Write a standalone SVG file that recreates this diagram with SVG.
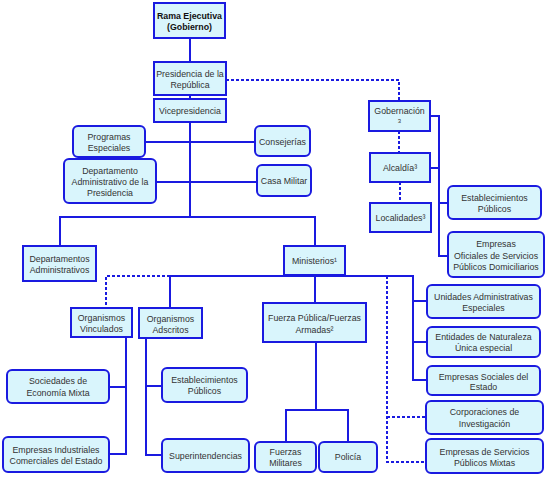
<svg xmlns="http://www.w3.org/2000/svg" width="548" height="478" viewBox="0 0 548 478">
<style>
.b{fill:#d9f5fc;stroke:#1a1ae0;stroke-width:2}
.t{font-family:"Liberation Sans",Arial,sans-serif;font-size:8.8px;fill:#333;text-anchor:middle}
.bold{font-weight:bold;fill:#111}
.c{fill:none;stroke:#1a1ae0;stroke-width:2}
.d{fill:none;stroke:#1a1ae0;stroke-width:2;stroke-dasharray:3,2}
</style>
<rect width="548" height="478" fill="#fff"/>
<g id="connectors">
<path class="c" d="M190,38V62M190,95V99M190,122V217M145,142H255M156,182H257M60,246V217H315V246M170,308V276H413V380H427M413,301H427M413,342H427M315,276V303M126,337V454H109M109,387H126M146,338V455H162M146,386H162M316,342V410M286,442V410H348V442M430,116H439V256H448M430,168H439M439,203H448"/>
<path class="d" d="M226,80H399V101M399,131V153M400,182V203M170,276H106V308M387,276V462H426M387,417H426"/>
</g>
<g id="rama"><rect class="b" x="154" y="3" width="71" height="35"/><text class="t bold" x="189.5" y="18.5">Rama Ejecutiva</text><text class="t bold" x="189.5" y="29.5">(Gobierno)</text></g>
<g id="presidencia"><rect class="b" x="154" y="62" width="72" height="33"/><text class="t" x="190" y="77">Presidencia de la</text><text class="t" x="190" y="88">República</text></g>
<g id="vicepresidencia"><rect class="b" x="154" y="99" width="72" height="23"/><text class="t" x="190" y="114">Vicepresidencia</text></g>
<g id="programas"><rect class="b" x="73" y="126" width="72" height="31" rx="5"/><text class="t" x="109" y="140">Programas</text><text class="t" x="109" y="150.5">Especiales</text></g>
<g id="consejerias"><rect class="b" x="255" y="126" width="55" height="30" rx="5"/><text class="t" x="282.5" y="144.5">Consejerías</text></g>
<g id="dapre"><rect class="b" x="64" y="159" width="92" height="44" rx="5"/><text class="t" x="110" y="174">Departamento</text><text class="t" x="110" y="185">Administrativo de la</text><text class="t" x="110" y="196">Presidencia</text></g>
<g id="casamilitar"><rect class="b" x="257" y="165" width="54" height="31" rx="5"/><text class="t" x="284" y="183.5">Casa Militar</text></g>
<g id="deptadmin"><rect class="b" x="23" y="246" width="73" height="35"/><text class="t" x="59.5" y="261.5">Departamentos</text><text class="t" x="59.5" y="272.5">Administrativos</text></g>
<g id="ministerios"><rect class="b" x="284" y="246" width="61" height="29"/><text class="t" x="314.5" y="264">Ministerios¹</text></g>
<g id="gobernacion"><rect class="b" x="369" y="101" width="61" height="30"/><text class="t" x="399.5" y="114">Gobernación</text><text class="t" x="399.5" y="123" style="font-size:6px">3</text></g>
<g id="alcaldia"><rect class="b" x="370" y="153" width="60" height="29"/><text class="t" x="400" y="170.5">Alcaldía³</text></g>
<g id="localidades"><rect class="b" x="370" y="203" width="61" height="29"/><text class="t" x="400.5" y="221">Localidades³</text></g>
<g id="estpub1"><rect class="b" x="448" y="186" width="93" height="33" rx="5"/><text class="t" x="494.5" y="200.5">Establecimientos</text><text class="t" x="494.5" y="211.5">Públicos</text></g>
<g id="empoficiales"><rect class="b" x="448" y="232" width="96" height="45" rx="5"/><text class="t" x="496" y="247">Empresas</text><text class="t" x="496" y="258.5">Oficiales de Servicios</text><text class="t" x="496" y="269.5">Públicos Domiciliarios</text></g>
<g id="orgvinculados"><rect class="b" x="71" y="308" width="61" height="29"/><text class="t" x="101.5" y="320.5">Organismos</text><text class="t" x="101.5" y="331.5">Vinculados</text></g>
<g id="orgadscritos"><rect class="b" x="139" y="308" width="63" height="30"/><text class="t" x="170.5" y="322">Organismos</text><text class="t" x="170.5" y="333">Adscritos</text></g>
<g id="fuerzapublica"><rect class="b" x="263" y="303" width="103" height="39"/><text class="t" x="314.5" y="321">Fuerza Pública/Fuerzas</text><text class="t" x="314.5" y="333">Armadas²</text></g>
<g id="sociedades"><rect class="b" x="7" y="370" width="102" height="33" rx="5"/><text class="t" x="58" y="384">Sociedades de</text><text class="t" x="58" y="395.5">Economía Mixta</text></g>
<g id="empindustriales"><rect class="b" x="3" y="437" width="106" height="35" rx="5"/><text class="t" x="56" y="452.5">Empresas Industriales</text><text class="t" x="56" y="463.5">Comerciales del Estado</text></g>
<g id="estpub2"><rect class="b" x="162" y="368" width="85" height="34" rx="5"/><text class="t" x="204.5" y="383">Establecimientos</text><text class="t" x="204.5" y="394">Públicos</text></g>
<g id="superintendencias"><rect class="b" x="162" y="439" width="87" height="33" rx="5"/><text class="t" x="205.5" y="458.5">Superintendencias</text></g>
<g id="fuerzasmilitares"><rect class="b" x="255" y="442" width="61" height="30" rx="5"/><text class="t" x="285.5" y="454.5">Fuerzas</text><text class="t" x="285.5" y="465.5">Militares</text></g>
<g id="policia"><rect class="b" x="319" y="442" width="58" height="30" rx="5"/><text class="t" x="348" y="460">Policía</text></g>
<g id="unidades"><rect class="b" x="427" y="285" width="113" height="33" rx="5"/><text class="t" x="483.5" y="299.5">Unidades Administrativas</text><text class="t" x="483.5" y="310.5">Especiales</text></g>
<g id="entidades"><rect class="b" x="427" y="327" width="113" height="30" rx="5"/><text class="t" x="483.5" y="339.5">Entidades de Naturaleza</text><text class="t" x="483.5" y="351">Única especial</text></g>
<g id="empsociales"><rect class="b" x="427" y="366" width="113" height="29" rx="5"/><text class="t" x="483.5" y="379.5">Empresas Sociales del</text><text class="t" x="483.5" y="389.5">Estado</text></g>
<g id="corporaciones"><rect class="b" x="426" y="401" width="117" height="33" rx="5"/><text class="t" x="484.5" y="415">Corporaciones de</text><text class="t" x="484.5" y="426.5">Investigación</text></g>
<g id="empmixtas"><rect class="b" x="426" y="439" width="117" height="34" rx="5"/><text class="t" x="484.5" y="455">Empresas de Servicios</text><text class="t" x="484.5" y="466">Públicos Mixtas</text></g>
</svg>
